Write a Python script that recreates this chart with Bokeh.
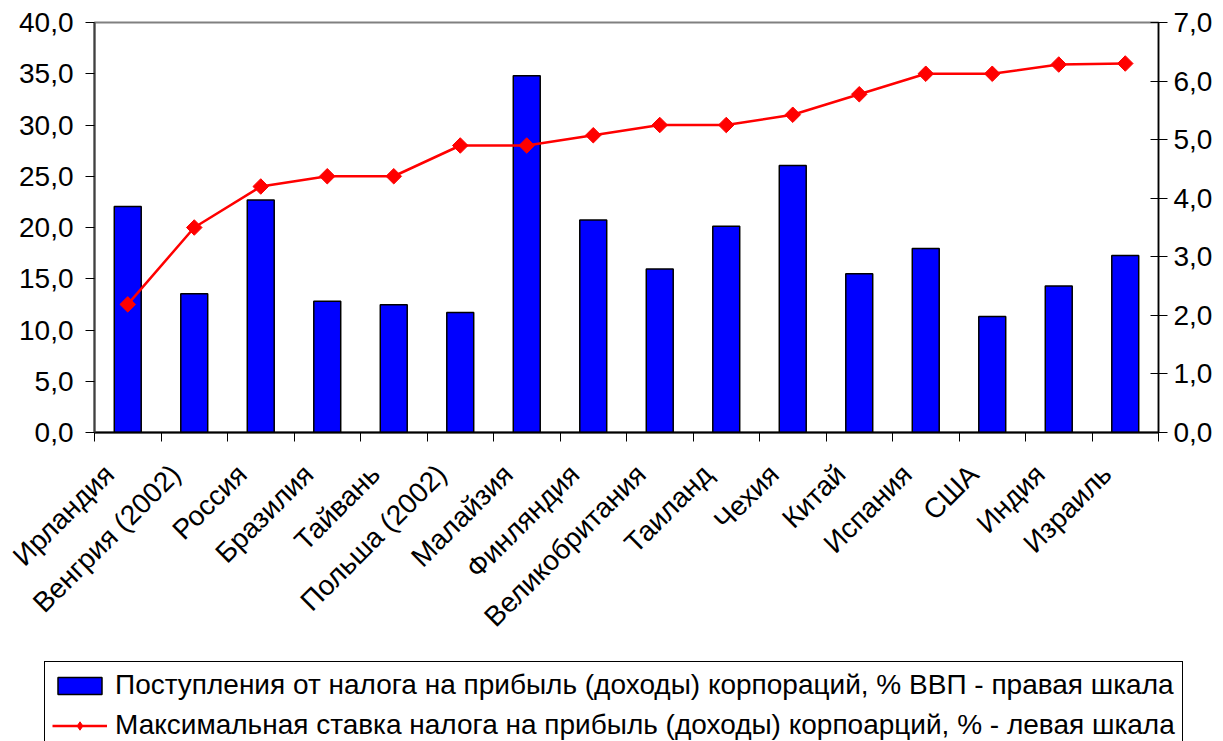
from math import pi
from bokeh.plotting import figure
from bokeh.models import (Range1d, LinearAxis, FixedTicker, CustomJSTickFormatter,
                          Legend, LegendItem, ColumnDataSource)
from bokeh.embed import file_html
from bokeh.resources import INLINE

countries = ["Ирландия", "Венгрия (2002)", "Россия", "Бразилия", "Тайвань",
             "Польша (2002)", "Малайзия", "Финляндия", "Великобритания", "Таиланд",
             "Чехия", "Китай", "Испания", "США", "Индия", "Израиль"]
revenue_pct_gdp = [3.86, 2.37, 3.97, 2.24, 2.18, 2.05, 6.09, 3.63,
                   2.79, 3.52, 4.56, 2.71, 3.14, 1.98, 2.50, 3.02]
max_rate_pct = [12.5, 20.0, 24.0, 25.0, 25.0, 28.0, 28.0, 29.0,
                30.0, 30.0, 31.0, 33.0, 35.0, 35.0, 35.9, 36.0]
left_ticks = [0, 5, 10, 15, 20, 25, 30, 35, 40]
right_ticks = [0, 1, 2, 3, 4, 5, 6, 7]
legend_bars = "Поступления от налога на прибыль (доходы) корпораций, % ВВП - правая шкала"
legend_line = "Максимальная ставка налога на прибыль (доходы) корпоарций, % - левая шкала"

FONT = "Liberation Sans"
FS = "28px"
BAR_STYLE = dict(fill_color="#0000FF", line_color="black", line_width=1.5)
LINE_STYLE = dict(line_color="#FF0000", line_width=2.5)
MARK_STYLE = dict(fill_color="#FF0000", line_color="#FF0000")

n = len(countries)
xs = [i + 0.5 for i in range(n)]
src = ColumnDataSource(dict(x=xs, rev=revenue_pct_gdp, rate=max_rate_pct))

W = 1215
H_MAIN = 655
H_LEG = 86

p = figure(width=W, height=H_MAIN, x_range=Range1d(0, n), y_range=Range1d(0, 40),
           output_backend="svg", toolbar_location=None,
           x_axis_type=None, y_axis_type=None,
           min_border_left=94, min_border_right=55, min_border_top=22, min_border_bottom=223)
p.extra_y_ranges = {"right": Range1d(0, 7)}
p.grid.visible = False
p.outline_line_color = "#808080"
p.outline_line_width = 2
p.background_fill_color = "white"
p.border_fill_color = "white"

comma_fmt = CustomJSTickFormatter(code="return tick.toFixed(1).replace('.', ',');")

# left axis
ly = LinearAxis(ticker=FixedTicker(ticks=left_ticks), formatter=comma_fmt)
ly.axis_line_color = "#404040"
ly.axis_line_width = 2
ly.major_tick_in = 0
ly.major_tick_out = 9
ly.major_tick_line_color = "black"
ly.minor_tick_line_color = None
ly.major_label_standoff = 12
ly.major_label_text_font = FONT
ly.major_label_text_font_size = FS
ly.major_label_text_color = "black"
p.add_layout(ly, "left")

# right axis
ry = LinearAxis(y_range_name="right", ticker=FixedTicker(ticks=right_ticks), formatter=comma_fmt)
ry.axis_line_color = "black"
ry.axis_line_width = 1.5
ry.major_tick_in = 8
ry.major_tick_out = 9
ry.major_tick_line_color = "black"
ry.minor_tick_line_color = None
ry.major_label_standoff = 6
ry.major_label_text_font = FONT
ry.major_label_text_font_size = FS
ry.major_label_text_color = "black"
p.add_layout(ry, "right")

# bottom axis: rotated labels slightly left of category centres, ticks at category boundaries
label_pos = [i + 0.22 for i in range(n)]
xfmt = CustomJSTickFormatter(args=dict(names=countries),
                             code="const i = Math.floor(tick); return (i >= 0 && i < names.length) ? names[i] : '';")
bx = LinearAxis(ticker=FixedTicker(ticks=label_pos, minor_ticks=list(range(n + 1))), formatter=xfmt)
bx.axis_line_color = "black"
bx.axis_line_width = 2
bx.major_tick_in = 0
bx.major_tick_out = 0
bx.minor_tick_in = 0
bx.minor_tick_out = 9
bx.minor_tick_line_color = "black"
bx.minor_tick_line_width = 1
bx.major_label_orientation = pi / 4
bx.major_label_standoff = 28
bx.major_label_text_font = FONT
bx.major_label_text_font_size = FS
bx.major_label_text_color = "black"
p.add_layout(bx, "below")

bars = p.vbar(x="x", top="rev", width=0.405, bottom=0, source=src, y_range_name="right", **BAR_STYLE)
line = p.line(x="x", y="rate", source=src, **LINE_STYLE)
pts = p.scatter(x="x", y="rate", source=src, size=11, marker="square", angle=pi / 4, **MARK_STYLE)

# legend strip below the chart (separate root so its frame is not aligned to the chart)
lg = figure(width=W, height=H_LEG, x_range=Range1d(0, 1), y_range=Range1d(0, 1),
            output_backend="svg", toolbar_location=None, x_axis_type=None, y_axis_type=None,
            min_border=0, min_border_left=44, min_border_top=6, min_border_right=0, min_border_bottom=0)
lg.grid.visible = False
lg.outline_line_color = None
lg.background_fill_color = "white"
lg.border_fill_color = "white"
dummy = ColumnDataSource(dict(x=[-10.0], y=[-10.0]))
lb = lg.vbar(x="x", top="y", width=0.1, bottom=-11, source=dummy, **BAR_STYLE)
ll = lg.line(x="x", y="y", source=dummy, **LINE_STYLE)
lp = lg.scatter(x="x", y="y", source=dummy, size=11, marker="diamond", **MARK_STYLE)

legend = Legend(items=[LegendItem(label=legend_bars, renderers=[lb]),
                       LegendItem(label=legend_line, renderers=[ll, lp])],
                location="top_left", orientation="vertical",
                label_text_font=FONT, label_text_font_size=FS, label_text_color="black",
                glyph_width=55, glyph_height=21, label_standoff=8, padding=7, spacing=8,
                border_line_color="black", border_line_width=1, border_line_alpha=1,
                background_fill_color="white", background_fill_alpha=1, margin=0)
lg.add_layout(legend, "center")

open("out.html", "w").write(file_html([p, lg], INLINE))
